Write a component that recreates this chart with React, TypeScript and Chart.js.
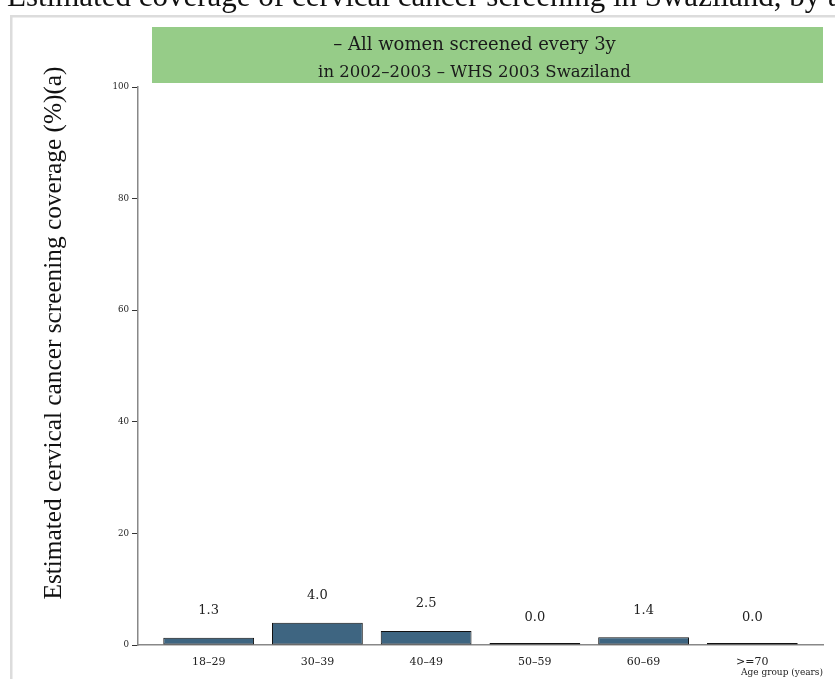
import React, { useEffect, useRef } from "react";
import { Chart, registerables } from "chart.js";

Chart.register(...registerables);

const chartTitle = "Estimated coverage of cervical cancer screening in Swaziland, by age";
const subtitleLines = ["– All women screened every 3y", "in 2002–2003 – WHS 2003 Swaziland"];
const yAxisTitle = "Estimated cervical cancer screening coverage (%)(a)";
const xAxisTitle = "Age group (years)";
const categories = ["18–29", "30–39", "40–49", "50–59", "60–69", ">=70"];
const coverage = [1.3, 4.0, 2.5, 0.0, 1.4, 0.0];
const yTicks = [0, 20, 40, 60, 80, 100];

const SERIF = "'Liberation Serif', 'Times New Roman', serif";
const DSERIF = "'DejaVu Serif', serif";

const decorPlugin = {
  id: "decor",
  beforeDraw(chart: any) {
    const { ctx, chartArea } = chart;
    ctx.save();
    // panel border
    ctx.strokeStyle = "#dcdcdc";
    ctx.lineWidth = 2.5;
    ctx.strokeRect(11.25, 16.25, 2000, 2000);
    // main title (clipped at top)
    ctx.fillStyle = "#111";
    ctx.font = `31px ${SERIF}`;
    ctx.textAlign = "left";
    ctx.textBaseline = "alphabetic";
    ctx.fillText(chartTitle, 7, 6);
    // green subtitle box
    const bx = chartArea.left + 14;
    const bw = chartArea.right - bx;
    ctx.fillStyle = "#96cc88";
    ctx.fillRect(bx, 27, bw, 56);
    const cx = (chartArea.left + chartArea.right) / 2 - 6;
    ctx.fillStyle = "#1a1a1a";
    ctx.textAlign = "center";
    ctx.font = `18px ${DSERIF}`;
    ctx.fillText(subtitleLines[0], cx, 50);
    ctx.font = `16.5px ${DSERIF}`;
    ctx.fillText(subtitleLines[1], cx, 77);
    // y axis title
    ctx.translate(61, 333);
    ctx.rotate(-Math.PI / 2);
    ctx.font = `25.3px ${SERIF}`;
    ctx.fillStyle = "#111";
    ctx.textAlign = "center";
    ctx.textBaseline = "alphabetic";
    ctx.fillText(yAxisTitle, 0, 0);
    ctx.restore();
  },
  afterDatasetsDraw(chart: any) {
    const { ctx } = chart;
    const meta = chart.getDatasetMeta(0);
    ctx.save();
    ctx.font = `13px ${DSERIF}`;
    ctx.fillStyle = "#222";
    ctx.textAlign = "center";
    ctx.textBaseline = "middle";
    meta.data.forEach((bar: any, i: number) => {
      const top = chart.scales.y.getPixelForValue(coverage[i]);
      ctx.fillText(coverage[i].toFixed(1), bar.x, top - 27);
    });
    ctx.restore();
  },
};

export default function App() {
  const ref = useRef<HTMLCanvasElement | null>(null);
  useEffect(() => {
    if (!ref.current) return;
    const chart = new Chart(ref.current, {
      type: "bar",
      data: {
        datasets: [
          {
            label: "Coverage",
            data: coverage.map((v, i) => ({ x: i, y: v })),
            backgroundColor: "#3e6581",
            borderColor: "#111",
            borderWidth: 1,
            borderSkipped: false,
            minBarLength: 2,
            categoryPercentage: 1,
            barPercentage: 0.835,
          },
        ],
      },
      options: {
        animation: false,
        responsive: false,
        layout: { padding: { top: 87, right: 12, left: 0, bottom: 0 } },
        plugins: { legend: { display: false }, tooltip: { enabled: false }, title: { display: false } },
        scales: {
          x: {
            type: "linear",
            offset: false,
            min: -0.65,
            max: 5.65,
            afterBuildTicks: (axis: any) => {
              axis.ticks = categories.map((_, i) => ({ value: i }));
            },
            afterFit: (axis: any) => {
              axis.height = 34;
            },
            grid: { display: false },
            border: { display: true, color: "#888", width: 1.5 },
            ticks: {
              autoSkip: false,
              maxRotation: 0,
              padding: 3,
              color: "#222",
              font: { family: DSERIF, size: 11 },
              callback: (v: any) => categories[Math.round(Number(v))] ?? "",
            },
            title: {
              display: true,
              text: xAxisTitle,
              align: "end",
              color: "#222",
              font: { family: DSERIF, size: 9 },
              padding: { top: 0, bottom: 1 },
            },
          },
          y: {
            min: 0,
            max: 100,
            afterBuildTicks: (axis: any) => {
              axis.ticks = yTicks.map((v) => ({ value: v }));
            },
            afterFit: (axis: any) => {
              axis.width = 138;
            },
            grid: { drawOnChartArea: false, drawTicks: true, tickLength: 6, color: "#333" },
            border: { display: true, color: "#888", width: 1.5 },
            ticks: {
              padding: 3,
              color: "#222",
              font: { family: DSERIF, size: 8.7 },
            },
          },
        },
      },
      plugins: [decorPlugin],
    } as any);
    return () => chart.destroy();
  }, []);
  return (
    <div style={{ position: "fixed", left: 0, top: 0, width: 835, height: 679, background: "#fff", overflow: "hidden" }}>
      <canvas ref={ref} width={835} height={679} style={{ display: "block", width: 835, height: 679 }} />
    </div>
  );
}
